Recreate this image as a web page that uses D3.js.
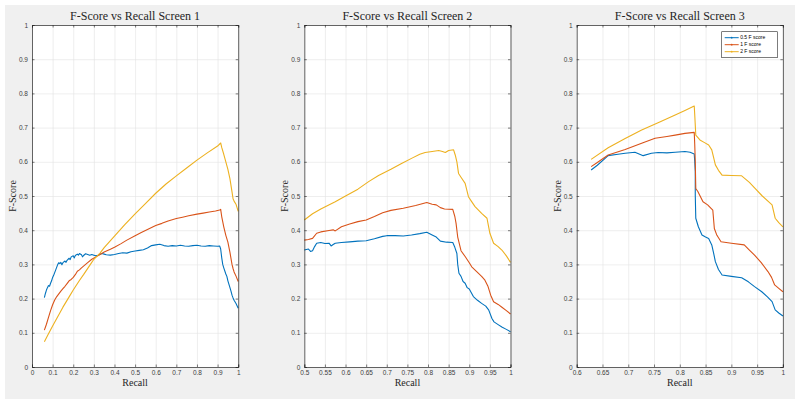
<!DOCTYPE html>
<html><head><meta charset="utf-8">
<script src="https://cdn.jsdelivr.net/npm/d3@7/dist/d3.min.js"></script>
<style>body{margin:0;background:#fff}svg{display:block}</style>
</head><body>
<svg id="chart" width="800" height="405"></svg>
<script>
// ---------------- DATA ----------------
const titles = ["F-Score vs Recall Screen 1","F-Score vs Recall Screen 2","F-Score vs Recall Screen 3"];
const seriesNames = ["0.5 F score","1 F score","2 F score"];
const seriesColors = ["#0072BD","#D95319","#EDB120"];
const xDomains = [[0,1],[0.5,1],[0.6,1]];
const xTicks1 = [0,0.1,0.2,0.3,0.4,0.5,0.6,0.7,0.8,0.9,1];
const xTicks2 = [0.5,0.55,0.6,0.65,0.7,0.75,0.8,0.85,0.9,0.95,1];
const xTicks3 = [0.6,0.65,0.7,0.75,0.8,0.85,0.9,0.95,1];
const yTicks = [0,0.1,0.2,0.3,0.4,0.5,0.6,0.7,0.8,0.9,1];

const s1_f05 = [[0.06,0.203],[0.065,0.215],[0.07,0.225],[0.075,0.232],[0.08,0.238],[0.085,0.236],[0.09,0.245],[0.095,0.252],[0.10,0.262],[0.105,0.268],[0.11,0.276],[0.115,0.284],[0.12,0.292],[0.125,0.300],[0.13,0.305],[0.135,0.302],[0.14,0.306],[0.145,0.299],[0.15,0.305],[0.16,0.310],[0.165,0.306],[0.17,0.312],[0.18,0.318],[0.185,0.314],[0.19,0.322],[0.20,0.325],[0.205,0.319],[0.21,0.326],[0.22,0.330],[0.225,0.327],[0.23,0.332],[0.24,0.328],[0.245,0.322],[0.25,0.326],[0.26,0.331],[0.27,0.329],[0.28,0.327],[0.29,0.329],[0.30,0.327],[0.31,0.325],[0.32,0.327],[0.33,0.330],[0.34,0.332],[0.35,0.330],[0.36,0.328],[0.38,0.327],[0.40,0.329],[0.42,0.332],[0.44,0.334],[0.46,0.333],[0.48,0.337],[0.50,0.339],[0.52,0.341],[0.54,0.343],[0.56,0.348],[0.58,0.355],[0.60,0.357],[0.62,0.359],[0.64,0.355],[0.66,0.353],[0.68,0.355],[0.70,0.354],[0.72,0.356],[0.74,0.354],[0.76,0.353],[0.78,0.355],[0.80,0.356],[0.82,0.354],[0.84,0.353],[0.86,0.355],[0.88,0.354],[0.90,0.353],[0.91,0.354],[0.915,0.345],[0.92,0.320],[0.925,0.300],[0.93,0.290],[0.94,0.272],[0.945,0.265],[0.95,0.252],[0.96,0.232],[0.965,0.222],[0.97,0.210],[0.975,0.202],[0.98,0.195],[0.99,0.185],[1.0,0.172]];
const s1_f1 = [[0.06,0.108],[0.07,0.125],[0.08,0.145],[0.09,0.165],[0.10,0.182],[0.11,0.196],[0.12,0.206],[0.13,0.214],[0.14,0.222],[0.15,0.229],[0.16,0.236],[0.17,0.244],[0.18,0.252],[0.19,0.256],[0.20,0.262],[0.21,0.270],[0.22,0.280],[0.23,0.284],[0.24,0.290],[0.25,0.295],[0.27,0.305],[0.29,0.315],[0.31,0.322],[0.33,0.329],[0.35,0.336],[0.38,0.344],[0.40,0.350],[0.43,0.360],[0.46,0.371],[0.50,0.384],[0.53,0.393],[0.56,0.402],[0.60,0.414],[0.63,0.420],[0.66,0.427],[0.70,0.434],[0.73,0.438],[0.76,0.442],[0.80,0.447],[0.83,0.450],[0.86,0.453],[0.89,0.456],[0.91,0.459],[0.915,0.461],[0.92,0.440],[0.93,0.410],[0.94,0.385],[0.95,0.365],[0.96,0.335],[0.97,0.300],[0.975,0.288],[0.98,0.278],[0.99,0.265],[1.0,0.250]];
const s1_f2 = [[0.06,0.074],[0.08,0.097],[0.10,0.120],[0.12,0.142],[0.15,0.175],[0.18,0.205],[0.20,0.225],[0.23,0.253],[0.25,0.270],[0.28,0.297],[0.30,0.315],[0.33,0.333],[0.35,0.349],[0.40,0.383],[0.45,0.416],[0.50,0.448],[0.55,0.478],[0.60,0.508],[0.65,0.535],[0.70,0.559],[0.75,0.582],[0.80,0.605],[0.85,0.626],[0.90,0.646],[0.915,0.655],[0.92,0.642],[0.93,0.622],[0.94,0.600],[0.95,0.578],[0.96,0.550],[0.97,0.512],[0.975,0.492],[0.98,0.485],[0.99,0.475],[1.0,0.455]];

const s2_f05 = [[0.50,0.342],[0.51,0.345],[0.515,0.338],[0.52,0.340],[0.525,0.352],[0.53,0.362],[0.54,0.364],[0.55,0.361],[0.56,0.362],[0.565,0.354],[0.57,0.358],[0.575,0.362],[0.59,0.364],[0.61,0.366],[0.63,0.368],[0.65,0.369],[0.67,0.375],[0.69,0.382],[0.70,0.384],[0.72,0.384],[0.74,0.383],[0.76,0.386],[0.78,0.390],[0.797,0.394],[0.81,0.386],[0.82,0.380],[0.83,0.368],[0.845,0.365],[0.86,0.364],[0.865,0.350],[0.87,0.332],[0.872,0.300],[0.875,0.274],[0.88,0.265],[0.885,0.250],[0.89,0.245],[0.895,0.232],[0.90,0.228],[0.91,0.206],[0.92,0.195],[0.93,0.186],[0.94,0.178],[0.947,0.167],[0.955,0.142],[0.96,0.132],[0.97,0.124],[0.98,0.116],[0.99,0.110],[1.0,0.103]];
const s2_f1 = [[0.50,0.371],[0.51,0.373],[0.52,0.376],[0.53,0.391],[0.54,0.395],[0.56,0.399],[0.57,0.401],[0.575,0.398],[0.59,0.410],[0.61,0.418],[0.63,0.425],[0.65,0.430],[0.67,0.440],[0.69,0.451],[0.71,0.458],[0.74,0.464],[0.77,0.472],[0.797,0.481],[0.81,0.476],[0.82,0.474],[0.83,0.466],[0.84,0.462],[0.86,0.461],[0.865,0.440],[0.868,0.420],[0.872,0.380],[0.876,0.360],[0.88,0.340],[0.89,0.323],[0.90,0.305],[0.906,0.293],[0.918,0.279],[0.93,0.265],[0.938,0.254],[0.945,0.237],[0.952,0.210],[0.959,0.191],[0.97,0.183],[0.98,0.174],[0.99,0.165],[1.0,0.155]];
const s2_f2 = [[0.50,0.430],[0.52,0.448],[0.54,0.462],[0.575,0.483],[0.60,0.500],[0.63,0.520],[0.656,0.542],[0.68,0.560],[0.71,0.578],[0.737,0.596],[0.76,0.610],[0.78,0.622],[0.793,0.627],[0.81,0.630],[0.826,0.633],[0.835,0.630],[0.842,0.627],[0.85,0.633],[0.862,0.635],[0.866,0.620],[0.87,0.600],[0.874,0.566],[0.88,0.555],[0.89,0.537],[0.898,0.498],[0.905,0.485],[0.914,0.469],[0.93,0.449],[0.943,0.435],[0.947,0.410],[0.95,0.391],[0.959,0.362],[0.97,0.352],[0.979,0.342],[0.99,0.325],[1.0,0.306]];

const s3_f05 = [[0.628,0.576],[0.64,0.590],[0.661,0.618],[0.68,0.622],[0.694,0.625],[0.713,0.628],[0.729,0.618],[0.745,0.625],[0.758,0.627],[0.775,0.626],[0.791,0.628],[0.81,0.630],[0.82,0.628],[0.828,0.623],[0.829,0.600],[0.830,0.571],[0.830,0.503],[0.831,0.435],[0.836,0.410],[0.843,0.386],[0.850,0.380],[0.856,0.376],[0.862,0.357],[0.866,0.330],[0.869,0.308],[0.875,0.285],[0.882,0.269],[0.90,0.265],[0.92,0.261],[0.933,0.249],[0.945,0.235],[0.959,0.220],[0.97,0.205],[0.979,0.191],[0.985,0.167],[0.992,0.158],[1.0,0.149]];
const s3_f1 = [[0.628,0.586],[0.64,0.598],[0.661,0.620],[0.694,0.636],[0.726,0.654],[0.752,0.669],[0.775,0.674],[0.791,0.678],[0.81,0.683],[0.828,0.686],[0.829,0.650],[0.830,0.600],[0.831,0.522],[0.835,0.513],[0.845,0.483],[0.854,0.474],[0.864,0.459],[0.867,0.405],[0.872,0.385],[0.880,0.366],[0.90,0.362],[0.925,0.357],[0.935,0.342],[0.945,0.327],[0.958,0.305],[0.971,0.279],[0.978,0.262],[0.984,0.240],[0.992,0.230],[1.0,0.220]];
const s3_f2 = [[0.628,0.607],[0.661,0.641],[0.694,0.668],[0.726,0.693],[0.76,0.716],[0.791,0.737],[0.81,0.750],[0.828,0.763],[0.829,0.737],[0.831,0.678],[0.839,0.664],[0.848,0.656],[0.856,0.649],[0.862,0.635],[0.866,0.610],[0.869,0.591],[0.875,0.575],[0.882,0.561],[0.90,0.560],[0.920,0.559],[0.935,0.540],[0.946,0.522],[0.96,0.500],[0.979,0.474],[0.985,0.435],[0.992,0.422],[1.0,0.410]];

const panelsData = [[s1_f05,s1_f1,s1_f2],[s2_f05,s2_f1,s2_f2],[s3_f05,s3_f1,s3_f2]];
const panelsXTicks = [xTicks1,xTicks2,xTicks3];

// ---------------- LAYOUT ----------------
const svg = d3.select("#chart");
svg.append("rect").attr("x",5).attr("y",5).attr("width",790).attr("height",394).attr("fill","#f0f0f0");

const lefts = [32, 304.3, 576.7];
const pw = 206.2, pTop = 25, pBottom = 367;
const axisColor = "#262626";
const tickFont = "'Liberation Sans', Arial, sans-serif";
const serif = "'Liberation Serif','DejaVu Serif',serif";
const fmt = d => d3.format("~g")(+d.toFixed(2));

panelsData.forEach((series, i) => {
  const x = d3.scaleLinear().domain(xDomains[i]).range([lefts[i], lefts[i]+pw]);
  const y = d3.scaleLinear().domain([0,1]).range([pBottom, pTop]);
  const g = svg.append("g");
  g.append("rect").attr("x",lefts[i]).attr("y",pTop).attr("width",pw).attr("height",pBottom-pTop).attr("fill","#fff");

  // grid
  const gx = g.append("g").attr("transform",`translate(0,${pBottom})`)
    .call(d3.axisBottom(x).tickValues(panelsXTicks[i]).tickSize(-(pBottom-pTop)).tickFormat(""));
  gx.selectAll("line").attr("stroke","#e3e3e3").attr("stroke-width",0.6);
  gx.select(".domain").remove();
  const gy = g.append("g").attr("transform",`translate(${lefts[i]},0)`)
    .call(d3.axisLeft(y).tickValues(yTicks).tickSize(-pw).tickFormat(""));
  gy.selectAll("line").attr("stroke","#e3e3e3").attr("stroke-width",0.6);
  gy.select(".domain").remove();

  // lines
  const line = d3.line().x(d=>x(d[0])).y(d=>y(d[1]));
  series.forEach((s,k)=>{
    g.append("path").datum(s).attr("d",line).attr("fill","none")
      .attr("stroke",seriesColors[k]).attr("stroke-width",1.1).attr("stroke-linejoin","round");
  });

  // axes with inward ticks
  const ax = g.append("g").attr("transform",`translate(0,${pBottom})`)
    .call(d3.axisBottom(x).tickValues(panelsXTicks[i]).tickSize(-2.5).tickPadding(4).tickFormat(fmt));
  const axT = g.append("g").attr("transform",`translate(0,${pTop})`)
    .call(d3.axisTop(x).tickValues(panelsXTicks[i]).tickSize(-2.5).tickFormat(""));
  const ay = g.append("g").attr("transform",`translate(${lefts[i]},0)`)
    .call(d3.axisLeft(y).tickValues(yTicks).tickSize(-2.5).tickPadding(4).tickFormat(fmt));
  const ayR = g.append("g").attr("transform",`translate(${lefts[i]+pw},0)`)
    .call(d3.axisRight(y).tickValues(yTicks).tickSize(-2.5).tickFormat(""));
  [ax,axT,ay,ayR].forEach(a=>{
    a.selectAll(".domain").attr("stroke",axisColor).attr("stroke-width",0.7);
    a.selectAll("line").attr("stroke",axisColor).attr("stroke-width",0.6);
    a.selectAll("text").attr("fill","#404040").attr("font-family",tickFont).attr("font-size",6.5);
  });
  ax.selectAll("text").attr("dy","0.6em");

  // title and labels
  const cx = lefts[i]+pw/2;
  svg.append("text").attr("x",cx).attr("y",20).attr("text-anchor","middle")
    .attr("font-family",serif).attr("font-size",12).attr("font-weight","normal")
    .attr("fill","#262626").text(titles[i]);
  svg.append("text").attr("x",cx).attr("y",386).attr("text-anchor","middle")
    .attr("font-family",serif).attr("font-size",10).attr("fill","#262626").text("Recall");
  svg.append("text").attr("transform",`translate(${lefts[i]-16},${(pTop+pBottom)/2}) rotate(-90)`)
    .attr("text-anchor","middle").attr("font-family",serif).attr("font-size",10)
    .attr("fill","#262626").text("F-Score");

  if (i === 2) {
    const lx = 721.7, ly = 31.7, lw = 55.6, lh = 26;
    const lg = svg.append("g");
    lg.append("rect").attr("x",lx).attr("y",ly).attr("width",lw).attr("height",lh)
      .attr("fill","#fff").attr("stroke",axisColor).attr("stroke-width",0.6);
    seriesNames.forEach((n,k)=>{
      const yy = ly + 6 + k*7;
      lg.append("line").attr("x1",lx+3).attr("x2",lx+17).attr("y1",yy).attr("y2",yy)
        .attr("stroke",seriesColors[k]).attr("stroke-width",1);
      lg.append("circle").attr("cx",lx+10).attr("cy",yy).attr("r",0.9).attr("fill",seriesColors[k]);
      lg.append("text").attr("x",lx+18.5).attr("y",yy).attr("dy","0.35em")
        .attr("font-family",tickFont).attr("font-size",5).attr("fill","#000").text(n);
    });
  }
});
</script>
</body></html>
